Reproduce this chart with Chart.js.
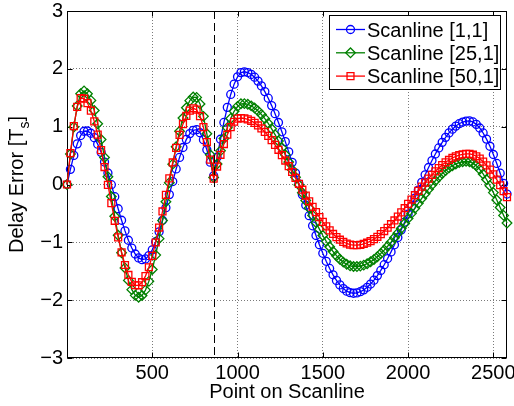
<!DOCTYPE html>
<html>
<head>
<meta charset="utf-8">
<script src="https://cdn.jsdelivr.net/npm/chart.js@4.4.0/dist/chart.umd.min.js"></script>
<style>
  html, body { margin: 0; padding: 0; background: #fff; }
  #wrap { width: 514px; height: 406px; position: relative; }
</style>
</head>
<body>
<div id="wrap"><canvas id="delayChart"></canvas></div>
<script>
// sample positions along the scanline
const points = [
  0, 20, 40, 60, 80, 100, 120, 140, 160, 180,
  200, 220, 240, 260, 280, 300, 320, 340, 360, 380,
  400, 420, 440, 460, 480, 500, 520, 540, 560, 580,
  600, 620, 640, 660, 680, 700, 720, 740, 760, 780,
  800, 820, 840, 860, 880, 900, 920, 940, 960, 980,
  1000, 1020, 1040, 1060, 1080, 1100, 1120, 1140, 1160, 1180,
  1200, 1220, 1240, 1260, 1280, 1300, 1320, 1340, 1360, 1380,
  1400, 1420, 1440, 1460, 1480, 1500, 1520, 1540, 1560, 1580,
  1600, 1620, 1640, 1660, 1680, 1700, 1720, 1740, 1760, 1780,
  1800, 1820, 1840, 1860, 1880, 1900, 1920, 1940, 1960, 1980,
  2000, 2020, 2040, 2060, 2080, 2100, 2120, 2140, 2160, 2180,
  2200, 2220, 2240, 2260, 2280, 2300, 2320, 2340, 2360, 2380,
  2400, 2420, 2440, 2460, 2480, 2500, 2520, 2540, 2560, 2580
];

// delay error [Ts] per scanline
const scan1 = [
  0, 0.262, 0.503, 0.703, 0.846, 0.921, 0.925, 0.886, 0.810, 0.698,
  0.556, 0.388, 0.199, -0.003, -0.211, -0.419, -0.618, -0.802, -0.964, -1.099,
  -1.202, -1.270, -1.299, -1.287, -1.230, -1.130, -0.990, -0.818, -0.619, -0.401,
  -0.175, 0.051, 0.269, 0.468, 0.640, 0.780, 0.880, 0.937, 0.948, 0.895,
  0.775, 0.601, 0.386, 0.150, 0.471, 0.782, 1.073, 1.334, 1.557, 1.735,
  1.862, 1.934, 1.949, 1.936, 1.904, 1.855, 1.788, 1.705, 1.606, 1.492,
  1.364, 1.224, 1.072, 0.911, 0.741, 0.564, 0.383, 0.198, 0.012, -0.175,
  -0.359, -0.539, -0.714, -0.882, -1.042, -1.190, -1.328, -1.452, -1.562, -1.658,
  -1.736, -1.799, -1.844, -1.871, -1.880, -1.874, -1.854, -1.822, -1.778, -1.721,
  -1.654, -1.575, -1.486, -1.387, -1.280, -1.165, -1.043, -0.916, -0.784, -0.649,
  -0.511, -0.373, -0.234, -0.097, 0.037, 0.168, 0.294, 0.414, 0.527, 0.632,
  0.729, 0.815, 0.892, 0.957, 1.010, 1.051, 1.080, 1.096, 1.099, 1.082,
  1.040, 0.977, 0.891, 0.785, 0.661, 0.519, 0.364, 0.196, 0.018, -0.165
];
const scan25 = [
  0, 0.526, 0.995, 1.356, 1.570, 1.618, 1.568, 1.454, 1.279, 1.051,
  0.777, 0.468, 0.135, -0.208, -0.550, -0.878, -1.179, -1.443, -1.658, -1.818,
  -1.917, -1.950, -1.919, -1.826, -1.675, -1.470, -1.221, -0.936, -0.624, -0.298,
  0.032, 0.352, 0.653, 0.921, 1.149, 1.327, 1.450, 1.512, 1.506, 1.393,
  1.178, 0.877, 0.514, 0.120, 0.355, 0.582, 0.794, 0.982, 1.142, 1.266,
  1.351, 1.395, 1.398, 1.386, 1.360, 1.322, 1.273, 1.211, 1.139, 1.056,
  0.963, 0.862, 0.752, 0.636, 0.514, 0.387, 0.257, 0.124, -0.010, -0.144,
  -0.277, -0.407, -0.534, -0.656, -0.772, -0.882, -0.983, -1.076, -1.159, -1.231,
  -1.293, -1.342, -1.380, -1.406, -1.418, -1.419, -1.411, -1.394, -1.369, -1.337,
  -1.296, -1.249, -1.194, -1.134, -1.068, -0.996, -0.920, -0.841, -0.758, -0.673,
  -0.586, -0.499, -0.412, -0.326, -0.241, -0.159, -0.080, -0.006, 0.065, 0.129,
  0.189, 0.241, 0.287, 0.325, 0.356, 0.379, 0.393, 0.400, 0.394, 0.369,
  0.325, 0.262, 0.182, 0.087, -0.021, -0.140, -0.267, -0.399, -0.534, -0.667
];
const scan50 = [
  0, 0.542, 1.011, 1.343, 1.494, 1.483, 1.408, 1.276, 1.091, 0.862,
  0.595, 0.302, -0.007, -0.321, -0.627, -0.915, -1.172, -1.392, -1.564, -1.682,
  -1.742, -1.743, -1.690, -1.584, -1.431, -1.235, -1.003, -0.744, -0.466, -0.179,
  0.107, 0.381, 0.634, 0.857, 1.044, 1.185, 1.278, 1.318, 1.294, 1.183,
  0.992, 0.734, 0.429, 0.100, 0.311, 0.514, 0.700, 0.861, 0.991, 1.085,
  1.138, 1.150, 1.143, 1.126, 1.100, 1.065, 1.021, 0.969, 0.909, 0.841,
  0.767, 0.686, 0.600, 0.509, 0.414, 0.316, 0.216, 0.114, 0.012, -0.090,
  -0.191, -0.290, -0.386, -0.478, -0.565, -0.647, -0.723, -0.793, -0.855, -0.909,
  -0.955, -0.992, -1.020, -1.039, -1.049, -1.049, -1.042, -1.028, -1.007, -0.979,
  -0.944, -0.904, -0.857, -0.805, -0.748, -0.687, -0.622, -0.554, -0.483, -0.410,
  -0.335, -0.260, -0.185, -0.111, -0.037, 0.034, 0.102, 0.167, 0.228, 0.285,
  0.337, 0.384, 0.424, 0.459, 0.487, 0.508, 0.522, 0.529, 0.528, 0.515,
  0.488, 0.448, 0.395, 0.331, 0.257, 0.174, 0.084, -0.013, -0.114, -0.218
];

const seriesNames = ['Scanline [1,1]', 'Scanline [25,1]', 'Scanline [50,1]'];
const xTicks = [500, 1000, 1500, 2000, 2500];
const yTicks = [-3, -2, -1, 0, 1, 2, 3];
const xRange = [0, 2580];
const boundaryPoint = 860; // dashed marker on the scanline

const FONT = '"Liberation Sans", Arial, Helvetica, sans-serif';
const seriesStyle = [
  { color: '#0000ff', pointStyle: 'circle', radius: 4 },
  { color: '#008000', pointStyle: 'rectRot', radius: 4.8 },
  { color: '#ff0000', pointStyle: 'rect', radius: 4.9 }
];
const MARK_W = 1.3;

Chart.defaults.font.family = FONT;
Chart.defaults.font.size = 20;
Chart.defaults.color = '#000';

// axes box, inward ticks, dashed marker, legend and axis titles like MATLAB
const matlabFrame = {
  id: 'matlabFrame',
  beforeDatasetsDraw(chart) {
    const { ctx, chartArea: a, scales: { x, y } } = chart;
    const L = Math.round(a.left) + 0.5, R = Math.round(a.right) - 0.5;
    const T = Math.round(a.top) + 0.5, B = Math.round(a.bottom) - 0.5;
    ctx.save();
    ctx.strokeStyle = '#000';
    ctx.lineWidth = 1;
    ctx.strokeRect(L, T, R - L, B - T);
    ctx.beginPath();
    xTicks.forEach(v => {
      const px = Math.round(x.getPixelForValue(v)) + 0.5;
      ctx.moveTo(px, B); ctx.lineTo(px, B - 5);
      ctx.moveTo(px, T); ctx.lineTo(px, T + 5);
    });
    yTicks.forEach(v => {
      const py = Math.round(y.getPixelForValue(v)) + 0.5;
      ctx.moveTo(L, py); ctx.lineTo(L + 5, py);
      ctx.moveTo(R, py); ctx.lineTo(R - 5, py);
    });
    ctx.stroke();
    ctx.restore();
  },
  afterDatasetsDraw(chart) {
    const { ctx, chartArea: a, scales: { x } } = chart;
    ctx.save();

    // dashed vertical line
    const bx = Math.round(x.getPixelForValue(boundaryPoint)) + 0.5;
    ctx.strokeStyle = '#000';
    ctx.lineWidth = 1;
    ctx.setLineDash([8, 4]);
    ctx.beginPath();
    ctx.moveTo(bx, a.top);
    ctx.lineTo(bx, a.bottom);
    ctx.stroke();
    ctx.setLineDash([]);

    // legend
    const lx = 329.5, ly = 15.5, lw = 171, lh = 74;
    ctx.fillStyle = '#fff';
    ctx.fillRect(lx, ly, lw, lh);
    ctx.strokeStyle = '#000';
    ctx.strokeRect(lx, ly, lw, lh);
    seriesNames.forEach((name, i) => {
      const st = seriesStyle[i];
      const cy = 29.5 + i * 23.3;
      ctx.strokeStyle = st.color;
      ctx.lineWidth = MARK_W;
      ctx.beginPath();
      ctx.moveTo(336, cy);
      ctx.lineTo(365, cy);
      ctx.stroke();
      ctx.fillStyle = 'rgba(0,0,0,0)';
      Chart.helpers.drawPoint(ctx, { pointStyle: st.pointStyle, radius: st.radius, borderWidth: MARK_W, rotation: 0 }, 350.5, cy);
      ctx.fillStyle = '#000';
      ctx.font = '20px ' + FONT;
      ctx.textAlign = 'left';
      ctx.textBaseline = 'alphabetic';
      ctx.fillText(name, 367, cy + 7);
    });

    // x title
    ctx.fillStyle = '#000';
    ctx.font = '20px ' + FONT;
    ctx.textAlign = 'center';
    ctx.textBaseline = 'alphabetic';
    ctx.fillText('Point on Scanline', (a.left + a.right) / 2, 398);

    // y title with subscript
    const main = 'Delay Error [T', sub = 's', tail = ']';
    ctx.translate(23, (a.top + a.bottom) / 2);
    ctx.rotate(-Math.PI / 2);
    ctx.textAlign = 'left';
    ctx.font = '20px ' + FONT;
    const wMain = ctx.measureText(main).width;
    const wTail = ctx.measureText(tail).width;
    ctx.font = '14px ' + FONT;
    const wSub = ctx.measureText(sub).width;
    const start = -(wMain + wSub + wTail) / 2;
    ctx.font = '20px ' + FONT;
    ctx.fillText(main, start, 0);
    ctx.font = '14px ' + FONT;
    ctx.fillText(sub, start + wMain, 6);
    ctx.font = '20px ' + FONT;
    ctx.fillText(tail, start + wMain + wSub, 0);
    ctx.restore();
  }
};

const datasets = [scan1, scan25, scan50].map((vals, i) => ({
  label: seriesNames[i],
  data: points.map((p, k) => ({ x: p, y: vals[k] })),
  borderColor: seriesStyle[i].color,
  backgroundColor: 'transparent',
  borderWidth: MARK_W,
  pointStyle: seriesStyle[i].pointStyle,
  pointRadius: seriesStyle[i].radius,
  pointBorderColor: seriesStyle[i].color,
  pointBackgroundColor: 'transparent',
  pointBorderWidth: MARK_W,
  tension: 0,
  clip: false,
  order: 3 - i
}));

new Chart(document.getElementById('delayChart'), {
  type: 'line',
  data: { datasets },
  options: {
    responsive: true,
    maintainAspectRatio: false,
    animation: false,
    events: [],
    layout: { padding: { top: 11, right: 7, bottom: 0, left: 0 } },
    plugins: { legend: { display: false }, tooltip: { enabled: false } },
    scales: {
      x: {
        type: 'linear',
        min: xRange[0],
        max: xRange[1],
        afterBuildTicks: s => { s.ticks = xTicks.map(v => ({ value: v })); },
        afterFit: s => { s.height = 48; s.paddingLeft = 0; s.paddingRight = 0; },
        border: { display: false, dash: [1, 2] },
        grid: { color: '#7a7a7a', lineWidth: 1, drawTicks: false },
        ticks: {
          padding: 3,
          maxRotation: 0,
          autoSkip: false,
          font: { size: 20 },
          callback: v => String(v)
        }
      },
      y: {
        type: 'linear',
        min: yTicks[0],
        max: yTicks[yTicks.length - 1],
        afterBuildTicks: s => { s.ticks = yTicks.map(v => ({ value: v })); },
        afterFit: s => { s.width = 67; s.paddingTop = 0; s.paddingBottom = 0; },
        border: { display: false, dash: [1, 2] },
        grid: { color: '#7a7a7a', lineWidth: 1, drawTicks: false },
        ticks: {
          padding: 4,
          autoSkip: false,
          font: { size: 20 },
          callback: v => (v < 0 ? '\u2212' + Math.abs(v) : String(v))
        }
      }
    }
  },
  plugins: [matlabFrame]
});
</script>
</body>
</html>
